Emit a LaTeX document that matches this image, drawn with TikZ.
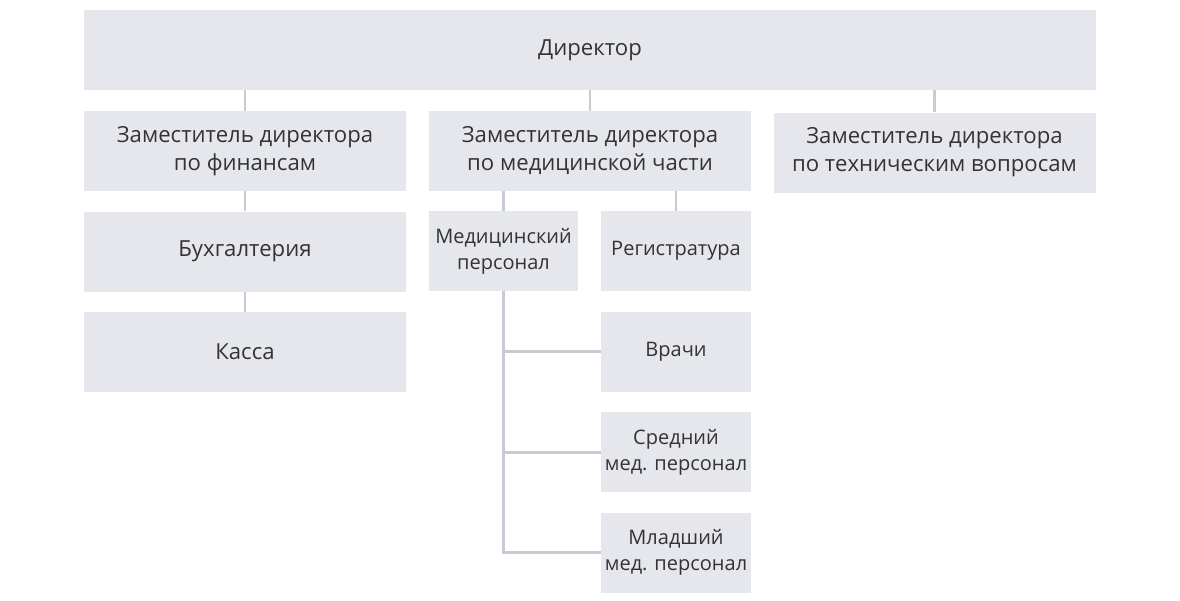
\documentclass[tikz,border=0pt]{standalone}
\usepackage{fontspec}
\setmainfont{Open Sans}
\usepackage{xcolor}
\usetikzlibrary{positioning}
\definecolor{boxc}{HTML}{E5E7EC}
\definecolor{linec}{HTML}{C6CBD4}
\definecolor{txtc}{HTML}{333333}
\tikzset{
  blk/.style={fill=boxc, align=center, inner sep=1pt, minimum height=60pt, text=txtc},
  wblk/.style={blk, minimum width=241.5pt},
  nblk/.style={blk, minimum width=112.5pt, font=\fontsize{15}{19.5}\selectfont},
  lnk/.style={draw=linec, line width=2.2pt}
}

\begin{document}
\begin{tikzpicture}[x=0.75pt, y=-0.75pt, font=\fontsize{16.6}{21}\selectfont]
  \useasboundingbox (0,0) rectangle (1180,600);
  \node[blk, minimum width=759pt] (dir) at (590,50) {Директор};
  \node[wblk] (fin) at (245,151) {Заместитель директора\\по финансам};
  \node[wblk] (med) at (590,151) {Заместитель директора\\по медицинской части};
  \node[wblk] (tech) at (934.5,152.5) {Заместитель директора\\по техническим вопросам};
  \node[wblk, below=15pt of fin] (buh) {Бухгалтерия};
  \node[wblk, below=15pt of buh] (kas) {Касса};
  \node[nblk, minimum width=111.75pt] (medp) at (503.5,251) {Медицинский\\персонал};
  \node[nblk] (reg) at (676,251) {Регистратура};
  \node[nblk, below=15pt of reg] (vr) {Врачи};
  \node[nblk, below=15pt of vr] (sr) {Средний\\мед. персонал};
  \node[nblk, below=15pt of sr] (ml) {Младший\\мед. персонал};
  \draw[lnk] (dir.south -| fin) -- (fin.north);
  \draw[lnk] (dir.south -| med) -- (med.north);
  \draw[lnk] (dir.south -| tech) -- (tech.north);
  \draw[lnk] (fin.south) -- (buh.north);
  \draw[lnk] (buh.south) -- (kas.north);
  \draw[lnk] (med.south -| medp) -- (medp.north);
  \draw[lnk] (med.south -| reg) -- (reg.north);
  \draw[lnk] (medp.south) |- (ml.west);
  \draw[lnk] (medp.south |- vr.west) -- (vr.west);
  \draw[lnk] (medp.south |- sr.west) -- (sr.west);
\end{tikzpicture}
\end{document}
